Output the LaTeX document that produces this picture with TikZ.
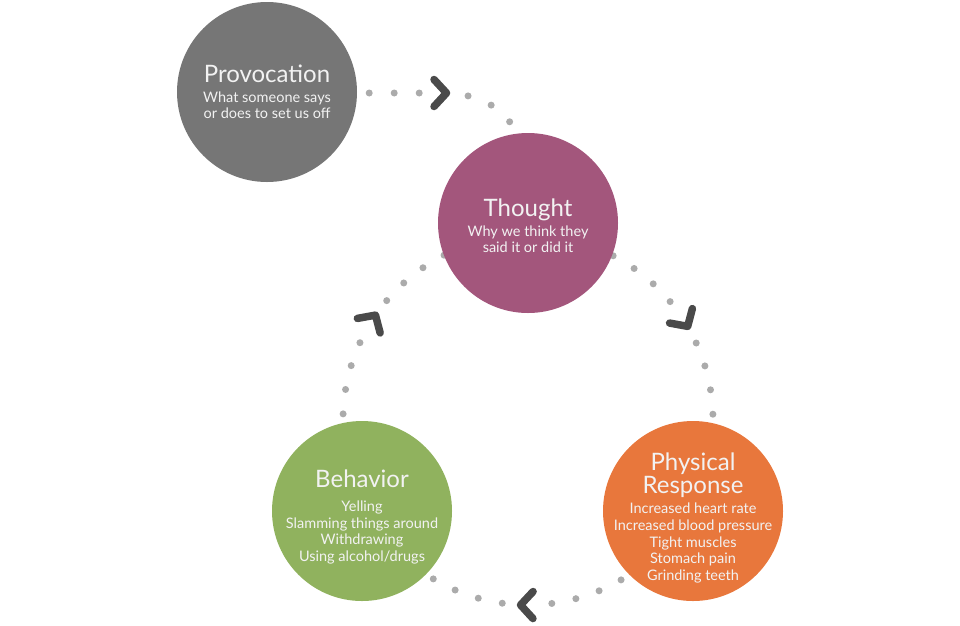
\documentclass[tikz,border=0pt]{standalone}
\usepackage{fontspec}
\setmainfont{Lato}
\usetikzlibrary{positioning}

\definecolor{provgray}{HTML}{767676}
\definecolor{thoughtplum}{HTML}{A3567C}
\definecolor{behavgreen}{HTML}{90B25E}
\definecolor{physorange}{HTML}{E8773C}
\definecolor{dotgray}{HTML}{ABABAB}
\definecolor{chevgray}{HTML}{4A4A4A}
\newcommand{\ttlfont}{\fontsize{24}{25}\selectfont}

\begin{document}
\begin{tikzpicture}[x=1pt, y=1pt,
  bubble/.style={circle, inner sep=0pt, minimum size=180pt},
  caption/.style={align=center, text=white!95!black, inner sep=0pt,
                  font=\fontsize{14.5}{16.7}\selectfont},
  dots/.style={dotgray, line width=7pt, line cap=round,
               dash pattern=on 0pt off 24.54pt},
  chev/.style={chevgray, line width=7.5pt, line cap=round, line join=round}
]
  \useasboundingbox (0,0) rectangle (960,-625);

  % the loop the dotted connectors run on
  \coordinate (loop) at (528,-420);
  \coordinate (bend) at (454,-165);

  % circles first, the dots pass beneath them
  \node[bubble] (prov) at (267,-92) {};
  \node[bubble] (thought) at (528,-223) {};
  \node[bubble] (behav) at (362,-511) {};
  \node[bubble] (phys) at (693,-511) {};

  % Provocation -> Thought
  \draw[dots, dash pattern=on 0pt off 25pt] (prov.east) ++(12,-1) -- ++(51,0);
  \draw[dots, dash pattern=on 0pt off 25pt] (bend) ++(78.5:70.5)
    arc[start angle=78.5, delta angle=-62, radius=70.5];

  % Thought -> Physical -> Behavior -> Thought
  \foreach \a in {62.6, 24.6, -59.8, -98, 178.1, 139.8}
    \draw[dots] (loop) ++(\a:185) arc[start angle=\a, delta angle=-23.3, radius=185];

  \fill[provgray] (prov) circle (90);
  \fill[thoughtplum] (thought) circle (90);
  \fill[behavgreen] (behav) circle (90);
  \fill[physorange] (phys) circle (90);

  % chevrons
  \draw[chev, shift={(440,-93)}] (-6,13.5) -- (6.5,0) -- (-6,-13.5);
  \foreach \a in {32.4, -90.3, 147.5}
    \draw[chev, shift={(loop)}, rotate=\a] (198.5,6) -- (185,-6.5) -- (171.5,6);

  % texts
  \node[caption] (provtext) at (prov) {{\ttlfont Provocation}\\[3pt]
    What someone says\\ or does to set us off};
  \node[caption] (thoughttext) at ([yshift=-3]thought) {{\ttlfont Thought}\\[3pt]
    Why we think they\\ said it or did it};
  \node[caption] (behavtext) at ([yshift=-6]behav) {{\ttlfont Behavior}\\[7pt]
    Yelling\\ Slamming things around\\ Withdrawing\\ Using alcohol/drugs};
  \node[caption] (phystext) at ([yshift=-7]phys) {{\ttlfont Physical}\\[1pt]
    {\ttlfont Response}\\[3pt] Increased heart rate\\ Increased blood pressure\\
    Tight muscles\\ Stomach pain\\ Grinding teeth};
\end{tikzpicture}
\end{document}
